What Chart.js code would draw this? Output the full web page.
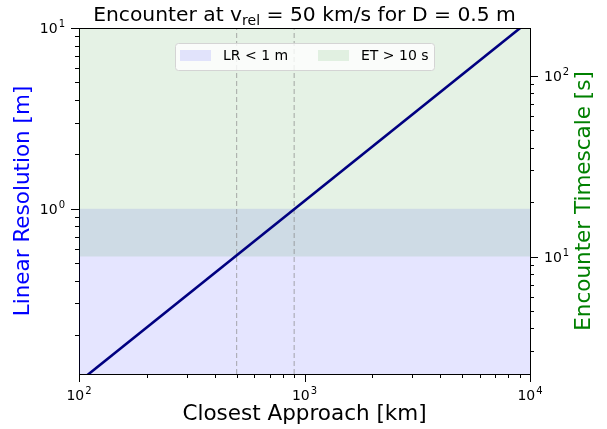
<!DOCTYPE html>
<html>
<head>
<meta charset="utf-8">
<script src="https://cdn.jsdelivr.net/npm/chart.js@4.4.1/dist/chart.umd.min.js"></script>
<style>
  body { margin: 0; background: #fff; }
  #wrap { width: 607px; height: 429px; }
</style>
</head>
<body>
<div id="wrap"><canvas id="chart"></canvas></div>
<script>
// data
const approachKm = [100, 10000];
const resolutionM = [0.1105, 11.05];
const markerKm = [500, 900];
const lrLimitM = 1;
const etLimitS = 10;
const xTicks = [100, 200, 300, 400, 500, 600, 700, 800, 900, 1000, 2000, 3000, 4000, 5000, 6000, 7000, 8000, 9000, 10000];
const leftTicks = [0.2, 0.3, 0.4, 0.5, 0.6, 0.7, 0.8, 0.9, 1, 2, 3, 4, 5, 6, 7, 8, 9, 10];
const rightTicks = [3, 4, 5, 6, 7, 8, 9, 10, 20, 30, 40, 50, 60, 70, 80, 90, 100];
const leftRange = [0.122, 10];
const rightRange = [2.24, 183.6];

const FONT = "'DejaVu Sans', sans-serif";

const isPow10 = v => Math.abs(Math.log10(v) - Math.round(Math.log10(v))) < 1e-9;

const fixTicks = list => scale => { scale.ticks = list.map(v => ({ value: v })); };

const span = (x0, x1, y) => [{ x: x0, y: y }, { x: x1, y: y }];
const vline = (x, range) => [{ x: x, y: range[0] }, { x: x, y: range[1] }];

// "10" with a raised exponent, like matplotlib's mathtext
function powerLabel(ctx, v, x, y, align) {
    const exp = String(Math.round(Math.log10(v)));
    ctx.font = '14px ' + FONT;
    const wb = ctx.measureText('10').width;
    ctx.font = '10px ' + FONT;
    const we = ctx.measureText(exp).width;
    const w = wb + we + 1;
    let x0 = align === 'center' ? x - w / 2 : align === 'right' ? x - w : x;
    ctx.textAlign = 'left';
    ctx.textBaseline = 'alphabetic';
    ctx.font = '14px ' + FONT;
    ctx.fillText('10', x0, y);
    ctx.font = '10px ' + FONT;
    ctx.fillText(exp, x0 + wb + 1, y - 6);
}

// tick marks, tick labels, frame, titles and legend
const decor = {
    id: 'decor',
    afterDraw(chart) {
        const ctx = chart.ctx;
        const a = chart.chartArea;
        ctx.save();
        ctx.strokeStyle = '#000';
        ctx.fillStyle = '#000';
        ctx.lineWidth = 1;

        // top spine
        ctx.beginPath();
        ctx.moveTo(a.left, a.top + 0.5);
        ctx.lineTo(a.right, a.top + 0.5);
        ctx.stroke();

        ['x', 'y', 'y2'].forEach(id => {
            const s = chart.scales[id];
            s.ticks.forEach(t => {
                const raw = s.getPixelForValue(t.value);
                const p = Math.round(raw) + 0.5;
                const major = isPow10(t.value);
                const len = major ? 8 : 4;
                ctx.beginPath();
                if (id === 'x') { ctx.moveTo(p, a.bottom); ctx.lineTo(p, a.bottom + len); }
                else if (id === 'y') { ctx.moveTo(a.left, p); ctx.lineTo(a.left - len, p); }
                else { ctx.moveTo(a.right, p); ctx.lineTo(a.right + len, p); }
                ctx.stroke();
                if (!major) return;
                if (id === 'x') powerLabel(ctx, t.value, raw, a.bottom + 26, 'center');
                else if (id === 'y') powerLabel(ctx, t.value, a.left - 14, raw + 5, 'right');
                else powerLabel(ctx, t.value, a.right + 14, raw + 5, 'left');
            });
        });

        // title with subscript
        ctx.textAlign = 'left';
        ctx.textBaseline = 'alphabetic';
        const big = '20.3px ' + FONT, small = '14px ' + FONT;
        const p1 = 'Encounter at v', p2 = 'rel', p3 = ' = 50 km/s for D = 0.5 m';
        ctx.font = big; const w1 = ctx.measureText(p1).width, w3 = ctx.measureText(p3).width;
        ctx.font = small; const w2 = ctx.measureText(p2).width;
        let x = (a.left + a.right) / 2 - (w1 + w2 + w3) / 2;
        ctx.font = big; ctx.fillText(p1, x, 21); x += w1;
        ctx.font = small; ctx.fillText(p2, x, 25); x += w2;
        ctx.font = big; ctx.fillText(p3, x, 21);

        // axis titles
        ctx.font = '21.5px ' + FONT;
        ctx.textAlign = 'center';
        ctx.textBaseline = 'middle';
        ctx.fillText('Closest Approach [km]', (a.left + a.right) / 2, 414);
        const midY = (a.top + a.bottom) / 2;
        ctx.save();
        ctx.translate(23, midY); ctx.rotate(-Math.PI / 2);
        ctx.fillStyle = 'blue';
        ctx.fillText('Linear Resolution [m]', 0, 0);
        ctx.restore();
        ctx.save();
        ctx.translate(584, midY); ctx.rotate(-Math.PI / 2);
        ctx.fillStyle = 'green';
        ctx.fillText('Encounter Timescale [s]', 0, 0);
        ctx.restore();

        // legend
        ctx.fillStyle = 'rgba(255,255,255,0.8)';
        ctx.strokeStyle = '#d4d4d4';
        ctx.beginPath();
        ctx.roundRect(175.5, 43.5, 259, 27, 3);
        ctx.fill(); ctx.stroke();
        ctx.fillStyle = 'rgba(0,0,255,0.1)';
        ctx.fillRect(180, 50, 31, 11);
        ctx.fillStyle = 'rgba(0,128,0,0.1)';
        ctx.fillRect(318, 50, 31, 11);
        ctx.fillStyle = '#000';
        ctx.font = '14px ' + FONT;
        ctx.textAlign = 'left';
        ctx.fillText('LR < 1 m', 223, 56);
        ctx.fillText('ET > 10 s', 361, 56);
        ctx.restore();
    }
};

new Chart(document.getElementById('chart'), {
    type: 'line',
    data: {
        datasets: [
            {
                label: 'Linear Resolution',
                data: approachKm.map((d, i) => ({ x: d, y: resolutionM[i] })),
                borderColor: '#000080',
                borderWidth: 2.6,
                pointRadius: 0,
                fill: false,
                yAxisID: 'y'
            },
            ...markerKm.map(d => ({
                label: 'marker ' + d,
                data: vline(d, leftRange),
                borderColor: 'rgba(128,128,128,0.55)',
                borderWidth: 1.2,
                borderDash: [5, 3],
                pointRadius: 0,
                fill: false,
                yAxisID: 'y'
            })),
            {
                label: 'ET > 10 s',
                data: span(approachKm[0], approachKm[1], etLimitS),
                borderWidth: 0,
                borderColor: 'rgba(0,0,0,0)',
                backgroundColor: 'rgba(0,128,0,0.1)',
                pointRadius: 0,
                fill: 'end',
                yAxisID: 'y2'
            },
            {
                label: 'LR < 1 m',
                data: span(approachKm[0], approachKm[1], lrLimitM),
                borderWidth: 0,
                borderColor: 'rgba(0,0,0,0)',
                backgroundColor: 'rgba(0,0,255,0.1)',
                pointRadius: 0,
                fill: 'start',
                yAxisID: 'y'
            }
        ]
    },
    options: {
        responsive: true,
        maintainAspectRatio: false,
        animation: false,
        layout: { padding: { top: 28, left: 0, right: 0, bottom: 0 } },
        plugins: {
            legend: { display: false },
            tooltip: { enabled: false }
        },
        scales: {
            x: {
                type: 'logarithmic',
                min: approachKm[0],
                max: approachKm[1],
                afterBuildTicks: fixTicks(xTicks),
                afterFit: s => { s.height = 55; },
                grid: { display: false, drawTicks: false },
                border: { display: true, color: '#000', width: 1 },
                ticks: { display: false }
            },
            y: {
                type: 'logarithmic',
                position: 'left',
                min: leftRange[0],
                max: leftRange[1],
                afterBuildTicks: fixTicks(leftTicks),
                afterFit: s => { s.width = 79; },
                grid: { display: false, drawTicks: false },
                border: { display: true, color: '#000', width: 1 },
                ticks: { display: false }
            },
            y2: {
                type: 'logarithmic',
                position: 'right',
                min: rightRange[0],
                max: rightRange[1],
                afterBuildTicks: fixTicks(rightTicks),
                afterFit: s => { s.width = 77; },
                grid: { display: false, drawTicks: false },
                border: { display: true, color: '#000', width: 1 },
                ticks: { display: false }
            }
        }
    },
    plugins: [decor]
});
</script>
</body>
</html>
